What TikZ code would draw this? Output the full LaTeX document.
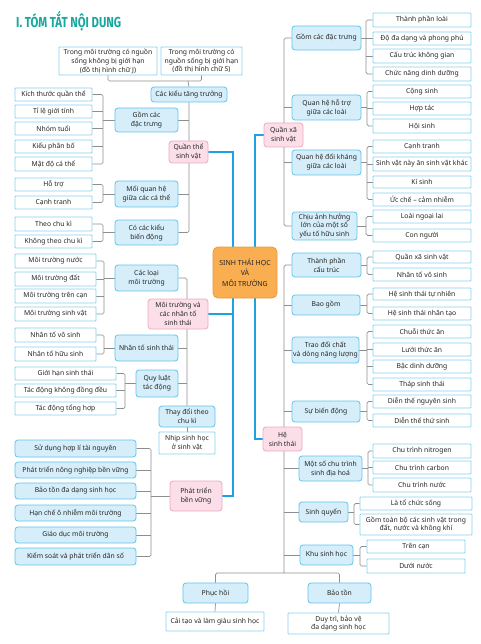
\documentclass[tikz,border=0pt]{standalone}
\usepackage{fontspec}
\setmainfont{Noto Sans}
\newfontfamily\titlef{Fira Sans}
\usetikzlibrary{backgrounds}
\definecolor{teal1}{HTML}{17A89E}
\definecolor{midfill}{HTML}{D5EEFA}
\definecolor{midbord}{HTML}{62C4EC}
\definecolor{leafbord}{HTML}{86D3F2}
\definecolor{pkfill}{HTML}{FBDEE8}
\definecolor{pkbord}{HTML}{EFA9C2}
\definecolor{orfill}{HTML}{F9AE52}
\definecolor{orbord}{HTML}{EC9A38}
\definecolor{gline}{HTML}{8E8E8E}
\definecolor{bline}{HTML}{1EA3E0}
\definecolor{txt}{HTML}{262626}
\newcommand\fs{\fontsize{6.8}{8.9}\selectfont}
\newcommand\mybox[7]{%
  \pgfmathsetmacro\bxc{(#3+#5)/2}%
  \pgfmathsetmacro\byc{(#4+#6)/2}%
  \pgfmathsetmacro\bw{#5-#3}%
  \pgfmathsetmacro\bh{#6-#4}%
  \node[#1, minimum width=\bw pt, minimum height=\bh pt] (#2) at (\bxc,\byc) {#7};%
}
\newcommand\lbr[5]{%
  \coordinate (bk) at (#2,0);
  \draw[gl] (#3.east) -| (bk |- #4.east) -- (#4.east);
  \foreach \c in {#5} {\draw[gl] (\c.east) -- (\c.east -| bk);}
  \draw[gl] (bk |- #1.west) -- (#1.west);
}
\newcommand\rbr[5]{%
  \coordinate (bk) at (#2,0);
  \draw[gl] (#3.west) -| (bk |- #4.west) -- (#4.west);
  \foreach \c in {#5} {\draw[gl] (\c.west) -- (\c.west -| bk);}
  \draw[gl] (#1.east) -- (bk |- #1.east);
}
\tikzset{
  boxbase/.style={align=center, inner sep=0pt, font=\fs, text=txt, line width=0.8pt},
  leaf/.style={boxbase, draw=leafbord, fill=white, rounded corners=0.8pt},
  lfb/.style={boxbase, draw=midbord, fill=midfill, rounded corners=3pt},
  mid/.style={boxbase, draw=midbord, fill=midfill, rounded corners=3pt},
  pk/.style={boxbase, draw=pkbord, fill=pkfill, rounded corners=3pt},
  ctr/.style={boxbase, draw=orbord, fill=orfill, rounded corners=5pt, font=\fontsize{7}{10.5}\selectfont\bfseries, text=black!85},
  gl/.style={draw=gline, line width=0.7pt, rounded corners=1.5pt},
  bl/.style={draw=bline, line width=1.4pt},
}
\begin{document}
\begin{tikzpicture}[x=1pt,y=-1pt]
\useasboundingbox (0,0) rectangle (480,644);
\node[anchor=base west, text=teal1, inner sep=0pt] (title) at (16,27.5) {\scalebox{0.78}[1]{\titlef\fontsize{14.5}{16}\selectfont\bfseries I. TÓM TẮT NỘI DUNG}};

% ---------- left: quan the
\mybox{leaf}{dA}{59}{47}{157}{75}{Trong môi trường có nguồn\\sống không bị giới hạn\\(đồ thị hình chữ J)}
\mybox{leaf}{dB}{161}{47}{242}{75}{Trong môi trường có\\nguồn sống bị giới hạn\\(đồ thị hình chữ S)}
\mybox{mid}{kieu}{151}{87}{227}{102}{Các kiểu tăng trưởng}
\mybox{pk}{qthe}{169}{141}{208}{163}{Quần thể\\sinh vật}
\mybox{mid}{gom}{115}{108}{178}{132}{Gồm các\\đặc trưng}
\mybox{mid}{moi}{115}{181}{178}{207}{Mối quan hệ\\giữa các cá thể}
\mybox{mid}{bd}{115}{220}{178}{245}{Có các kiểu\\biến động}
\mybox{leaf}{k1}{15}{88}{92}{101}{Kích thước quần thể}
\mybox{leaf}{k2}{15}{105}{92}{118}{Tỉ lệ giới tính}
\mybox{leaf}{k3}{15}{122}{92}{135}{Nhóm tuổi}
\mybox{leaf}{k4}{15}{140}{92}{153}{Kiểu phân bố}
\mybox{leaf}{k5}{15}{157}{92}{171}{Mật độ cá thể}
\mybox{leaf}{h1}{15}{178}{92}{191}{Hỗ trợ}
\mybox{leaf}{h2}{15}{196}{92}{209}{Cạnh tranh}
\mybox{leaf}{c1}{15}{217}{92}{231}{Theo chu kì}
\mybox{leaf}{c2}{15}{235}{92}{248}{Không theo chu kì}

% ---------- left: moi truong
\mybox{leaf}{m1}{15}{254}{96}{268}{Môi trường nước}
\mybox{leaf}{m2}{15}{272}{96}{286}{Môi trường đất}
\mybox{leaf}{m3}{15}{289}{96}{303}{Môi trường trên cạn}
\mybox{leaf}{m4}{15}{307}{96}{321}{Môi trường sinh vật}
\mybox{mid}{loai}{115}{265}{178}{291}{Các loại\\môi trường}
\mybox{pk}{mt}{148}{299}{208}{329}{Môi trường và\\các nhân tố\\sinh thái}
\mybox{mid}{nt}{115}{335}{178}{361}{Nhân tố sinh thái}
\mybox{leaf}{n1}{15}{328}{96}{342}{Nhân tố vô sinh}
\mybox{leaf}{n2}{15}{347}{96}{361}{Nhân tố hữu sinh}
\mybox{mid}{ql}{136}{370}{178}{397}{Quy luật\\tác động}
\mybox{leaf}{q1}{15}{367}{116}{380}{Giới hạn sinh thái}
\mybox{leaf}{q2}{15}{384}{116}{397}{Tác động không đồng đều}
\mybox{leaf}{q3}{15}{402}{116}{415}{Tác động tổng hợp}
\mybox{mid}{td}{159}{406}{215}{427}{Thay đổi theo\\chu kì}
\mybox{leaf}{nh}{159}{432}{215}{454}{Nhịp sinh học\\ở sinh vật}

% ---------- left: phat trien ben vung
\mybox{pk}{pt}{170}{481}{222}{511}{Phát triển\\bền vững}
\mybox{lfb}{s1}{15}{440}{136}{457}{Sử dụng hợp lí tài nguyên}
\mybox{lfb}{s2}{15}{462}{136}{478}{Phát triển nông nghiệp bền vững}
\mybox{lfb}{s3}{15}{483}{136}{499}{Bảo tồn đa dạng sinh học}
\mybox{lfb}{s4}{15}{505}{136}{521}{Hạn chế ô nhiễm môi trường}
\mybox{lfb}{s5}{15}{527}{136}{543}{Giáo dục môi trường}
\mybox{lfb}{s6}{15}{548}{136}{565}{Kiểm soát và phát triển dân số}

% ---------- bottom
\mybox{mid}{ph}{183}{583}{248}{603}{Phục hồi}
\mybox{leaf}{ct}{166}{612}{264}{631}{Cải tạo và làm giàu sinh học}
\mybox{mid}{bt}{308}{583}{371}{603}{Bảo tồn}
\mybox{leaf}{dt}{288}{613}{389}{634}{Duy trì, bảo vệ\\đa dạng sinh học}

% ---------- centre
\mybox{ctr}{ctr}{213}{247}{277}{298}{SINH THÁI HỌC\\VÀ\\MÔI TRƯỜNG}

% ---------- right: quan xa
\mybox{pk}{qx}{264}{123}{303}{147}{Quần xã\\sinh vật}
\mybox{mid}{g}{292}{26}{361}{50}{Gồm các đặc trưng}
\mybox{leaf}{r1}{373}{13}{471}{27}{Thành phần loài}
\mybox{leaf}{r2}{373}{32}{471}{45}{Độ đa dạng và phong phú}
\mybox{leaf}{r3}{373}{49}{471}{63}{Cấu trúc không gian}
\mybox{leaf}{r4}{373}{67}{471}{81}{Chức năng dinh dưỡng}
\mybox{mid}{ht}{292}{95}{361}{120}{Quan hệ hỗ trợ\\giữa các loài}
\mybox{leaf}{t1}{373}{85}{471}{98}{Cộng sinh}
\mybox{leaf}{t2}{373}{102}{471}{115}{Hợp tác}
\mybox{leaf}{t3}{373}{119}{471}{133}{Hội sinh}
\mybox{mid}{dk}{292}{150}{361}{175}{Quan hệ đối kháng\\giữa các loài}
\mybox{leaf}{d1}{373}{140}{471}{153}{Cạnh tranh}
\mybox{leaf}{d2}{373}{157}{471}{171}{Sinh vật này ăn sinh vật khác}
\mybox{leaf}{d3}{373}{176}{471}{188}{Kí sinh}
\mybox{leaf}{d4}{373}{193}{471}{206}{Ức chế – cảm nhiễm}
\mybox{mid}{ca}{292}{212}{357}{240}{Chịu ảnh hưởng\\lớn của một số\\yếu tố hữu sinh}
\mybox{leaf}{e1}{373}{210}{471}{223}{Loài ngoại lai}
\mybox{leaf}{e2}{373}{229}{471}{242}{Con người}

% ---------- right: he sinh thai
\mybox{pk}{hst}{263}{427}{302}{451}{Hệ\\sinh thái}
\mybox{mid}{tp}{292}{253}{361}{277}{Thành phần\\cấu trúc}
\mybox{leaf}{p1}{373}{251}{471}{263}{Quần xã sinh vật}
\mybox{leaf}{p2}{373}{268}{471}{281}{Nhân tố vô sinh}
\mybox{mid}{bg}{292}{295}{360}{315}{Bao gồm}
\mybox{leaf}{b1}{373}{288}{471}{300}{Hệ sinh thái tự nhiên}
\mybox{leaf}{b2}{373}{307}{471}{320}{Hệ sinh thái nhân tạo}
\mybox{mid}{tdc}{292}{337}{359}{363}{Trao đổi chất\\và dòng năng lượng}
\mybox{leaf}{a1}{373}{325}{471}{338}{Chuỗi thức ăn}
\mybox{leaf}{a2}{373}{343}{471}{356}{Lưới thức ăn}
\mybox{leaf}{a3}{373}{360}{471}{373}{Bậc dinh dưỡng}
\mybox{leaf}{a4}{373}{378}{471}{391}{Tháp sinh thái}
\mybox{mid}{sbd}{292}{401}{360}{422}{Sự biến động}
\mybox{leaf}{v1}{373}{395}{471}{408}{Diễn thế nguyên sinh}
\mybox{leaf}{v2}{373}{414}{471}{427}{Diễn thế thứ sinh}
\mybox{mid}{cc}{299}{456}{362}{481}{Một số chu trình\\sinh địa hoá}
\mybox{leaf}{u1}{373}{444}{471}{458}{Chu trình nitrogen}
\mybox{leaf}{u2}{373}{461}{471}{474}{Chu trình carbon}
\mybox{leaf}{u3}{373}{478}{471}{492}{Chu trình nước}
\mybox{mid}{sq}{299}{502}{348}{522}{Sinh quyển}
\mybox{leaf}{w1}{360}{497}{472}{510}{Là tổ chức sống}
\mybox{leaf}{w2}{360}{514}{472}{535}{Gồm toàn bộ các sinh vật trong\\đất, nước và không khí}
\mybox{mid}{ksh}{300}{545}{353}{565}{Khu sinh học}
\mybox{leaf}{z1}{367}{540}{465}{553}{Trên cạn}
\mybox{leaf}{z2}{367}{559}{465}{573}{Dưới nước}

\begin{pgfonlayer}{background}
\fill[white] (0,0) rectangle (480,644);
% top bracket
\coordinate (tb) at (188,81);
\draw[gl] (dA.south) |- (tb) -| (dB.south);
\draw[gl] (tb) -- (kieu.north);
% quan the trunk
\draw[gl] (kieu.south) |- (bd.east);
\draw[gl] (gom.east) -- (gom.east -| kieu.south);
\draw[gl] (moi.east) -- (moi.east -| kieu.south);
\lbr{gom}{103}{k1}{k5}{k2,k3,k4}
\lbr{moi}{103}{h1}{h2}{}
\lbr{bd}{103}{c1}{c2}{}
% moi truong trunk
\draw[gl] (loai.east) -| (td.north);
\draw[gl] (nt.east) -- (nt.east -| td.north);
\draw[gl] (ql.east) -- (ql.east -| td.north);
\draw[gl] (td.south) -- (nh.north);
\lbr{loai}{104}{m1}{m4}{m2,m3}
\lbr{nt}{104}{n1}{n2}{}
\lbr{ql}{125}{q1}{q3}{q2}
\lbr{pt}{151}{s1}{s6}{s2,s3,s4,s5}
% quan xa trunk
\coordinate (qtr) at (284,130);
\draw[gl] (g.west) -| (qtr) |- (ca.west);
\draw[gl] (ht.west) -- (ht.west -| qtr);
\draw[gl] (dk.west) -- (dk.west -| qtr);
\rbr{g}{366}{r1}{r4}{r2,r3}
\rbr{ht}{367}{t1}{t3}{t2}
\rbr{dk}{367}{d1}{d4}{d2,d3}
\rbr{ca}{366}{e1}{e2}{}
% he sinh thai trunk
\coordinate (bj) at (284,573);
\draw[gl] (tp.west) -| (bj);
\foreach \n in {bg,tdc,sbd,cc,sq,ksh} {\draw[gl] (\n.west) -- (\n.west -| bj);}
\rbr{tp}{367}{p1}{p2}{}
\rbr{bg}{367}{b1}{b2}{}
\rbr{tdc}{367}{a1}{a4}{a2,a3}
\rbr{sbd}{367}{v1}{v2}{}
\rbr{cc}{368}{u1}{u3}{u2}
\rbr{sq}{354}{w1}{w2}{}
\rbr{ksh}{360}{z1}{z2}{}
% bottom
\draw[gl] (ph.north) |- (bj) -| (bt.north);
\draw[gl] (ph.south) -- (ct.north);
\draw[gl] (bt.south) -- (dt.north);
% blue spines
\coordinate (ls) at (233,300);
\coordinate (rs) at (255,300);
\draw[bl] (qthe.east) -| (ls) |- (pt.east);
\draw[bl] (mt.east) -- (mt.east -| ls);
\draw[bl] (qx.west) -| (rs) |- (hst.west);
\end{pgfonlayer}
\end{tikzpicture}
\end{document}
